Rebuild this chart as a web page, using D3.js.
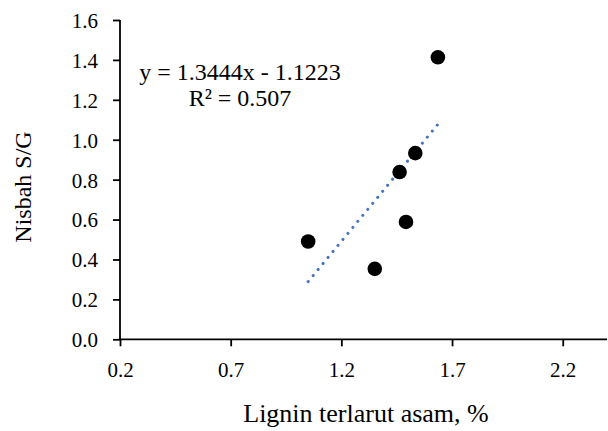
<!DOCTYPE html>
<html>
<head>
<meta charset="utf-8">
<script src="https://cdn.jsdelivr.net/npm/d3@7"></script>
<style>
  body { margin: 0; background: #fff; }
</style>
</head>
<body>
<div id="chart"></div>
<script>
// data
const ligninValues = [1.05, 1.351, 1.463, 1.492, 1.534, 1.636];
const ratioValues = [0.49, 0.353, 0.838, 0.588, 0.933, 1.413];
const xTicks = [0.2, 0.7, 1.2, 1.7, 2.2];
const yTicks = [0, 0.2, 0.4, 0.6, 0.8, 1.0, 1.2, 1.4, 1.6];
const slope = 1.3444, intercept = -1.1223;
const equationLines = ["y = 1.3444x - 1.1223", "R² = 0.507"];

const serif = "Liberation Serif, Times New Roman, serif";
const width = 608, height = 431;
const margin = { top: 20, right: 0, bottom: 91.7, left: 120 };

const svg = d3.select("#chart").append("svg")
    .attr("width", width)
    .attr("height", height)
    .style("background", "white");

const x = d3.scaleLinear().domain([0.2, 2.4]).range([margin.left, width - 1]);
const y = d3.scaleLinear().domain([0, 1.6]).range([height - margin.bottom, margin.top]);

// y axis
const yAxis = svg.append("g")
    .attr("transform", `translate(${margin.left},0)`)
    .call(d3.axisLeft(y).tickValues(yTicks).tickSize(7).tickPadding(15).tickFormat(d3.format(".1f")));
yAxis.select(".domain").attr("d", `M0,${y(1.6)}V${y(0)}`);

// x axis
const xAxis = svg.append("g")
    .attr("transform", `translate(0,${y(0)})`)
    .call(d3.axisBottom(x).tickValues(xTicks).tickSize(7).tickPadding(14).tickFormat(d3.format(".1f")));
xAxis.select(".domain").attr("d", `M${x(0.2)},0H${x(2.4)}`);

svg.selectAll(".domain, .tick line")
    .attr("stroke", "#000")
    .attr("stroke-width", 1.8);
svg.selectAll(".tick text")
    .style("font-family", serif)
    .style("font-size", "21px")
    .style("fill", "#000");
yAxis.selectAll(".tick text").attr("dy", "0.35em");
xAxis.selectAll(".tick text").attr("dy", "0.78em");

// trendline
const xExtent = d3.extent(ligninValues);
svg.append("path")
    .attr("d", d3.line()(xExtent.map(v => [x(v), y(slope * v + intercept)])))
    .attr("fill", "none")
    .attr("stroke", "#4472C4")
    .attr("stroke-width", 3)
    .attr("stroke-linecap", "round")
    .attr("stroke-dasharray", "0.1 7.7");

// points
svg.append("g")
    .selectAll("circle")
    .data(ligninValues.map((v, i) => [v, ratioValues[i]]))
    .join("circle")
    .attr("cx", d => x(d[0]))
    .attr("cy", d => y(d[1]))
    .attr("r", 7.3)
    .attr("fill", "#000");

// equation
svg.append("g")
    .selectAll("text")
    .data(equationLines)
    .join("text")
    .attr("x", 240)
    .attr("y", (d, i) => 80 + i * 25.5)
    .attr("text-anchor", "middle")
    .style("font-family", serif)
    .style("font-size", "24px")
    .text(d => d);

// axis titles
svg.append("text")
    .attr("x", 366)
    .attr("y", 422)
    .attr("text-anchor", "middle")
    .style("font-family", serif)
    .style("font-size", "26px")
    .text("Lignin terlarut asam, %");

svg.append("text")
    .attr("transform", `translate(31,187) rotate(-90)`)
    .attr("text-anchor", "middle")
    .style("font-family", serif)
    .style("font-size", "24px")
    .text("Nisbah S/G");
</script>
</body>
</html>
